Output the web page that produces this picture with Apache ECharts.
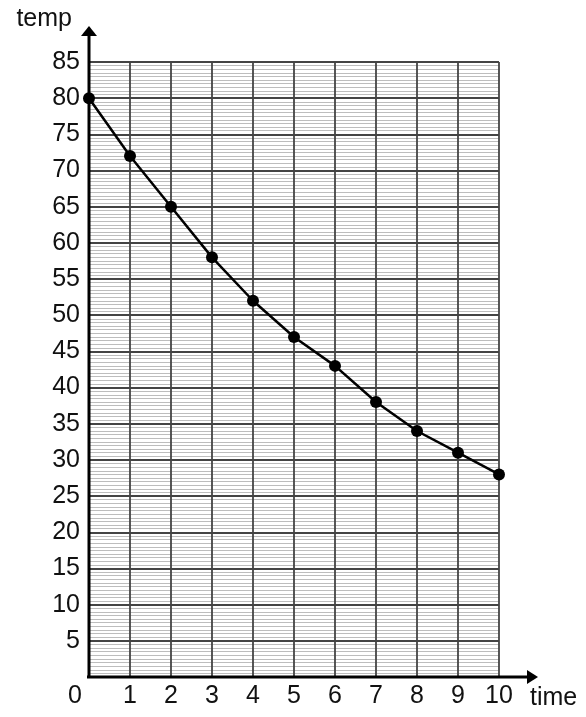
<!DOCTYPE html>
<html><head><meta charset="utf-8">
<script src="https://cdn.jsdelivr.net/npm/echarts@6/dist/echarts.min.js"></script>
<style>html,body{margin:0;padding:0;background:#fff}#c{width:586px;height:717px}</style>
</head><body><div id="c"></div>
<script>
const timeCats = [0,1,2,3,4,5,6,7,8,9,10];
const tempValues = [80,72,65,58,52,47,43,38,34,31,28];
const yTicks = [0,5,10,15,20,25,30,35,40,45,50,55,60,65,70,75,80,85];
const xName = 'time';
const yName = 'temp';

const chart = echarts.init(document.getElementById('c'), null, {renderer:'canvas'});
const font = 'Liberation Sans, Arial, sans-serif';
chart.setOption({
  animation:false,
  grid:{left:89,right:87,top:62,bottom:40},
  xAxis:{type:'value',min:0,max:10,interval:1,
    name:xName,nameLocation:'end',nameGap:31,
    nameTextStyle:{fontFamily:font,fontSize:25,color:'#111',align:'left',verticalAlign:'top',padding:[9,0,0,0]},
    axisLine:{show:false},axisTick:{show:false},
    axisLabel:{fontFamily:font,fontSize:25,color:'#111',margin:7,
      formatter:function(v){return v===0?'{z|0}':String(v);},
      rich:{z:{fontFamily:font,fontSize:25,color:'#111',padding:[0,28,0,0]}}},
    splitLine:{show:true,lineStyle:{color:'#444',width:1.8}}
  },
  yAxis:{type:'value',min:0,max:85,interval:5,
    name:yName,nameLocation:'end',nameGap:43,
    nameTextStyle:{fontFamily:font,fontSize:25,color:'#111',align:'right',verticalAlign:'middle',padding:[0,17,0,0]},
    axisLine:{show:false},axisTick:{show:false},
    axisLabel:{fontFamily:font,fontSize:25,color:'#111',margin:9,
      formatter:function(v){return (v===0||yTicks.indexOf(v)<0)?'':String(v);}},
    splitLine:{show:true,lineStyle:{color:'#444',width:1.8}},
    minorTick:{show:false,splitNumber:10},
    minorSplitLine:{show:true,lineStyle:{color:'#bdbdbd',width:1}}
  },
  series:[{type:'line',data:timeCats.map((t,i)=>[t,tempValues[i]]),
    lineStyle:{color:'#000',width:2.5},itemStyle:{color:'#000'},
    symbol:'circle',symbolSize:12,z:5}]
});

// axis lines with arrows, computed from the axis scales
const o = chart.convertToPixel({gridIndex:0},[0,0]);
const yt = chart.convertToPixel({gridIndex:0},[0,85]);
const xr = chart.convertToPixel({gridIndex:0},[10,0]);
const yTipY = yt[1]-36, xTipX = xr[0]+39;
chart.setOption({graphic:[
  {type:'line',shape:{x1:o[0],y1:o[1],x2:o[0],y2:yTipY+8},style:{stroke:'#000',lineWidth:3},z:10},
  {type:'line',shape:{x1:o[0]-2,y1:o[1],x2:xTipX-8,y2:o[1]},style:{stroke:'#000',lineWidth:3},z:10},
  {type:'polygon',shape:{points:[[o[0],yTipY],[o[0]-8,yTipY+10],[o[0]+8,yTipY+10]]},style:{fill:'#000'},z:10},
  {type:'polygon',shape:{points:[[xTipX,o[1]],[xTipX-11,o[1]-7],[xTipX-11,o[1]+7]]},style:{fill:'#000'},z:10}
]});
</script></body></html>
